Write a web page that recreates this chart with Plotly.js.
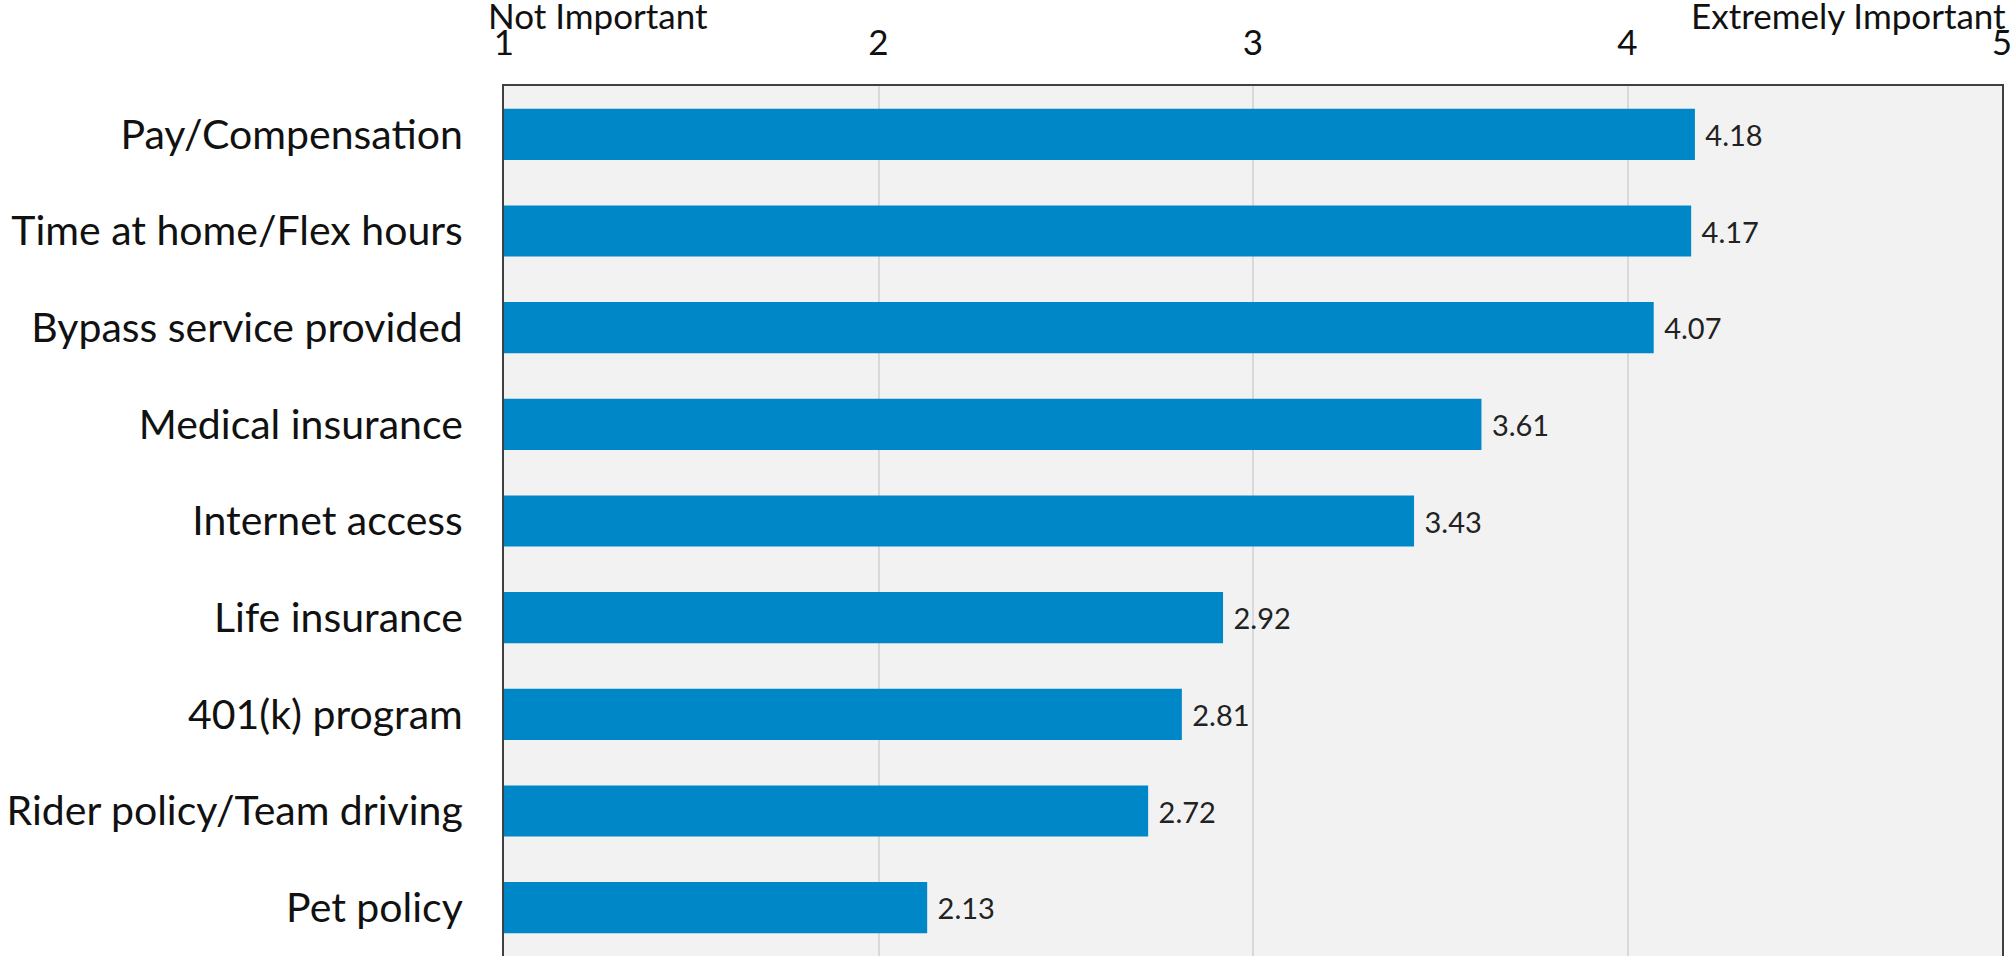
<!DOCTYPE html>
<html>
<head>
<meta charset="utf-8">
<script src="https://cdn.plot.ly/plotly-3.0.1.min.js"></script>
<style>html,body{margin:0;padding:0;background:#fff;}</style>
</head>
<body>
<div id="chart" style="width:2011px;height:956px;"></div>
<script>
const categories = ["Pay/Compensation","Time at home/Flex hours","Bypass service provided","Medical insurance","Internet access","Life insurance","401(k) program","Rider policy/Team driving","Pet policy"];
const values = [4.18, 4.17, 4.07, 3.61, 3.43, 2.92, 2.81, 2.72, 2.13];
const tickValues = [1, 2, 3, 4, 5];
const tickLabels = ["1", "2", "3", "4", "5"];
const scaleLow = "Not Important";
const scaleHigh = "Extremely Important";

const FONT = "Lato, 'Open Sans', sans-serif";
const AXIS_MIN = tickValues[0];

const trace = {
  type: 'bar',
  orientation: 'h',
  x: values.map(v => v - AXIS_MIN),
  y: categories,
  base: AXIS_MIN,
  marker: {color: '#0087c7', line: {width: 0}},
  text: values.map(v => '\u00a0' + v.toFixed(2)),
  textposition: 'outside',
  textfont: {family: FONT, size: 29, color: '#222222'},
  cliponaxis: false,
  hoverinfo: 'skip'
};

const layout = {
  width: 2011, height: 956,
  margin: {l: 504, r: 9, t: 86, b: 0, pad: 0},
  paper_bgcolor: '#ffffff',
  plot_bgcolor: '#f2f2f2',
  showlegend: false,
  bargap: 0.47,
  font: {family: FONT, color: '#111111'},
  xaxis: {
    side: 'top',
    range: [1, 5],
    tickvals: tickValues,
    ticktext: tickLabels,
    showgrid: true, gridcolor: '#d9d9d9', gridwidth: 2,
    zeroline: false,
    showline: true, linecolor: '#404040', linewidth: 2,
    ticks: '',
    ticklabelstandoff: 15,
    ticklabeloverflow: 'allow',
    tickfont: {family: FONT, size: 35, color: '#111111'},
    fixedrange: true
  },
  yaxis: {
    autorange: 'reversed',
    showline: true, linecolor: '#404040', linewidth: 2, mirror: true,
    showgrid: false, zeroline: false,
    ticks: '',
    ticklabelstandoff: 31,
    tickfont: {family: FONT, size: 41, color: '#111111'},
    fixedrange: true
  },
  annotations: [
    {text: scaleLow, xref: 'x', yref: 'paper', x: tickValues[0], y: 1, xanchor: 'left', yanchor: 'middle',
     xshift: -18, yshift: 71, showarrow: false, font: {family: FONT, size: 35, color: '#111111'}},
    {text: scaleHigh, xref: 'x', yref: 'paper', x: tickValues[tickValues.length-1], y: 1, xanchor: 'right', yanchor: 'middle',
     xshift: 6, yshift: 71, showarrow: false, font: {family: FONT, size: 35, color: '#111111'}}
  ]
};

Plotly.newPlot('chart', [trace], layout, {displayModeBar: false, staticPlot: true});
</script>
</body>
</html>
